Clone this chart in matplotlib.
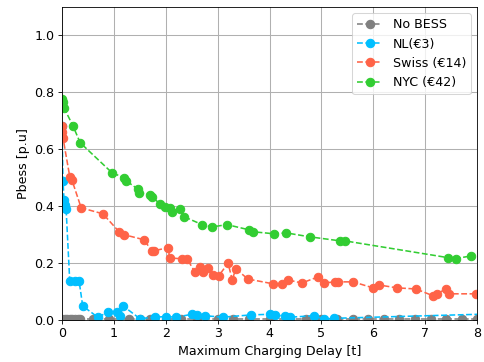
import matplotlib
matplotlib.use("Agg")
import matplotlib.pyplot as plt

# delay values and Pbess per scenario
nobess_x = [0.0, 0.05, 0.1, 0.15, 0.2, 0.25, 0.3, 0.35, 0.6, 0.9, 1.3, 1.5, 1.7, 2.0, 2.3,
            2.6, 3.0, 3.3, 3.6, 4.0, 4.4, 4.7, 5.0, 5.3, 5.6, 5.9, 6.2, 6.5, 6.8, 7.1, 7.4, 7.7, 8.0]
nobess_y = [0.004] * len(nobess_x)

nl_x = [0.0, 0.02, 0.04, 0.06, 0.08, 0.15, 0.25, 0.33, 0.40, 0.69, 0.89, 1.06, 1.12, 1.18,
        1.5, 1.8, 2.0, 2.2, 2.5, 2.6, 2.75, 3.1, 3.65, 4.0, 4.1, 4.3, 4.4, 4.85, 5.05, 5.25, 9.0]
nl_y = [0.68, 0.49, 0.42, 0.405, 0.39, 0.137, 0.137, 0.137, 0.049, 0.01, 0.028, 0.028, 0.014, 0.049,
        0.005, 0.01, 0.012, 0.01, 0.02, 0.018, 0.015, 0.01, 0.018, 0.02, 0.016, 0.015, 0.01, 0.015,
        0.003, 0.006, 0.025]

swiss_x = [0.0, 0.01, 0.02, 0.15, 0.19, 0.37, 0.79, 1.10, 1.19, 1.58, 1.73, 1.77, 2.04, 2.08,
           2.31, 2.41, 2.56, 2.66, 2.72, 2.81, 2.91, 3.02, 3.20, 3.28, 3.35, 3.58, 4.07, 4.24,
           4.35, 4.62, 4.93, 5.05, 5.26, 5.32, 5.61, 5.99, 6.11, 6.45, 6.82, 7.15, 7.22, 7.40,
           7.46, 7.98]
swiss_y = [0.68, 0.66, 0.64, 0.504, 0.493, 0.394, 0.373, 0.31, 0.30, 0.282, 0.243, 0.243, 0.254,
           0.218, 0.215, 0.215, 0.169, 0.187, 0.169, 0.183, 0.158, 0.155, 0.20, 0.141, 0.18, 0.144,
           0.127, 0.127, 0.141, 0.13, 0.151, 0.13, 0.134, 0.134, 0.134, 0.113, 0.123, 0.113, 0.109,
           0.085, 0.092, 0.109, 0.092, 0.092]

nyc_x = [0.0, 0.02, 0.04, 0.21, 0.35, 0.96, 1.19, 1.23, 1.46, 1.48, 1.70, 1.73, 1.89, 1.98,
         2.08, 2.12, 2.27, 2.35, 2.70, 2.89, 3.18, 3.60, 3.68, 4.08, 4.32, 4.78, 5.36, 5.45,
         7.44, 7.59, 7.88]
nyc_y = [0.775, 0.765, 0.745, 0.683, 0.623, 0.518, 0.50, 0.49, 0.46, 0.447, 0.44, 0.433, 0.408,
         0.398, 0.394, 0.38, 0.39, 0.363, 0.335, 0.327, 0.335, 0.317, 0.31, 0.303, 0.306, 0.292,
         0.278, 0.278, 0.219, 0.216, 0.225]

plt.rcParams["font.size"] = 12

# drawn at default 6.4x4.8 size, scaled down to ~484x362
fig = plt.figure(figsize=(6.4, 4.787), dpi=75.625)
ax = fig.add_axes([0.128, 0.116, 0.858, 0.865])

ms = 8
ax.plot(nobess_x, nobess_y, "--o", color="gray", markersize=ms, label="No BESS")
ax.plot(nl_x, nl_y, "--o", color="deepskyblue", markersize=ms, label="NL(€3)")
ax.plot(swiss_x, swiss_y, "--o", color="tomato", markersize=ms, label="Swiss (€14)")
ax.plot(nyc_x, nyc_y, "--o", color="limegreen", markersize=ms, label="NYC (€42)")

ax.set_xlim(0, 8)
ax.set_ylim(0, 1.1)
ax.set_xticks(range(0, 9))
ax.set_yticks([0.0, 0.2, 0.4, 0.6, 0.8, 1.0])
ax.grid(True, color="#b0b0b0", linewidth=1)
ax.set_axisbelow(True)
ax.set_xlabel("Maximum Charging Delay [t]")
ax.set_ylabel("Pbess [p.u]")
ax.legend(loc="upper right")

fig.savefig("out.png", dpi=75.625)
